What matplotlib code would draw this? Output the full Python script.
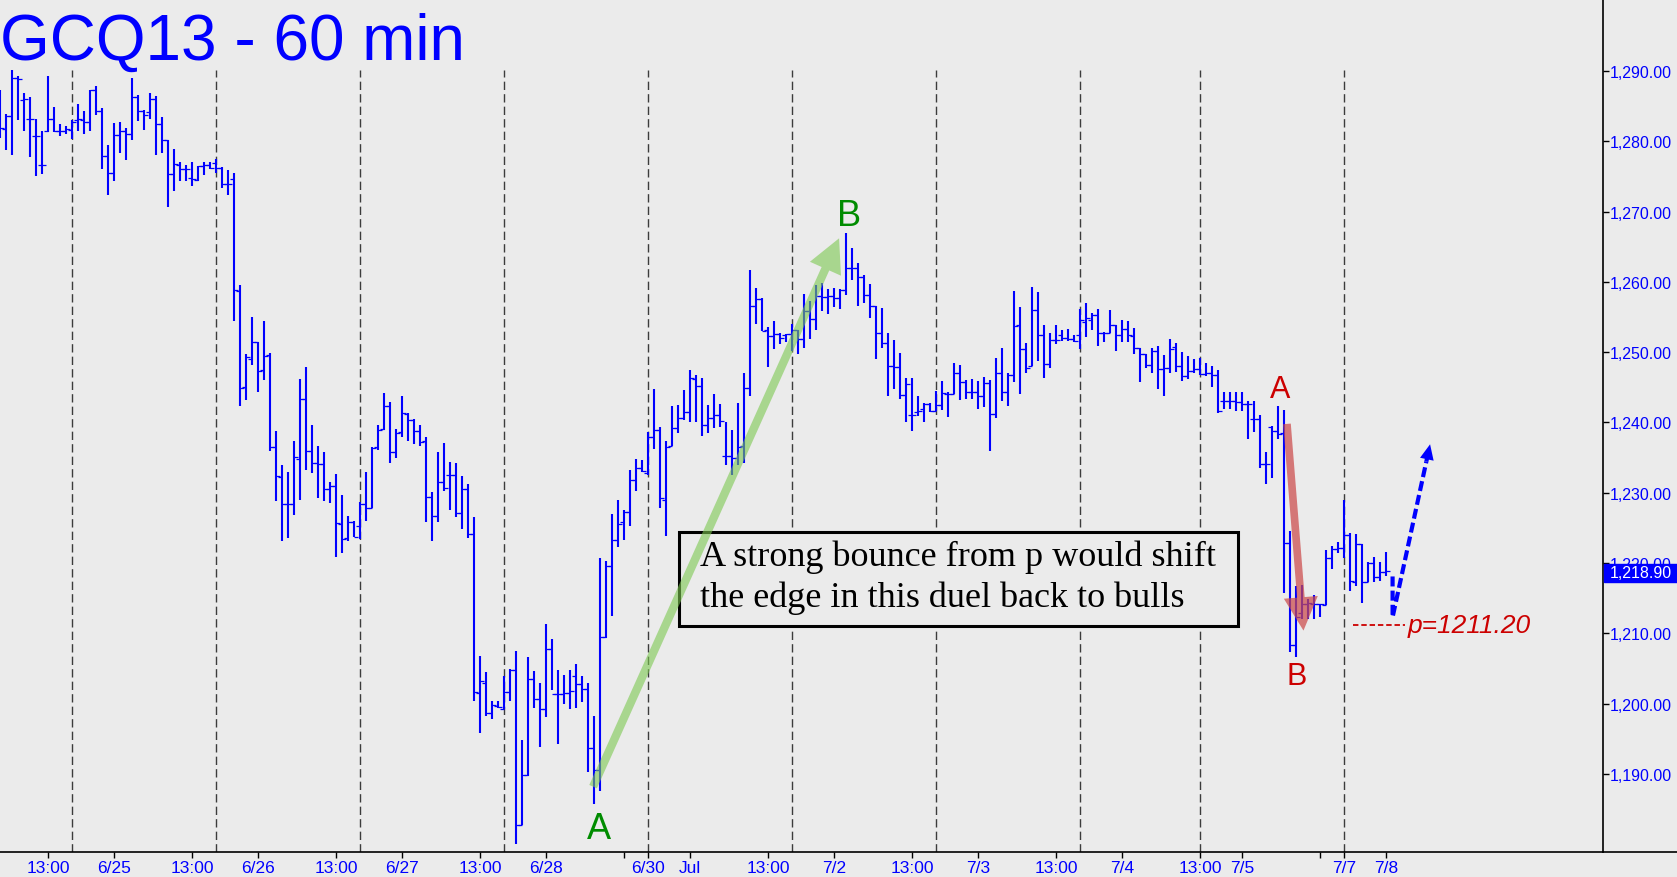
import matplotlib
matplotlib.use('Agg')
import matplotlib.pyplot as plt
from matplotlib.patches import FancyArrowPatch, Rectangle
from matplotlib.lines import Line2D

W, H = 1677, 878

# hourly OHLC bars, GCQ13
opens = [1284.0, 1281.8, 1283.6, 1289.0, 1285.9, 1283.1, 1280.7, 1276.6, 1281.4, 1283.1,
         1281.5, 1281.5, 1281.6, 1283.0, 1283.0, 1282.7, 1287.3, 1284.3, 1277.9, 1275.5,
         1280.9, 1281.5, 1281.0, 1286.3, 1284.3, 1284.1, 1286.0, 1282.4, 1280.2, 1275.3,
         1276.6, 1276.0, 1274.8, 1274.5, 1276.5, 1276.6, 1276.9, 1276.2, 1273.9, 1274.7,
         1258.7, 1245.0, 1249.1, 1251.4, 1247.4, 1249.6, 1236.5, 1232.3, 1228.4, 1228.4,
         1234.8, 1243.3, 1235.9, 1234.2, 1234.1, 1230.5, 1231.0, 1225.6, 1223.6, 1225.9,
         1225.3, 1228.4, 1227.8, 1236.5, 1239.1, 1242.4, 1235.8, 1238.6, 1241.2, 1240.4,
         1238.8, 1237.3, 1229.4, 1226.7, 1231.6, 1232.6, 1232.6, 1227.1, 1230.5, 1224.2,
         1201.5, 1202.9, 1198.7, 1199.7, 1199.3, 1201.6, 1204.8, 1182.8, 1189.9, 1203.5,
         1200.7, 1199.3, 1207.8, 1201.4, 1201.4, 1201.5, 1203.9, 1202.8, 1202.1, 1193.7,
         1190.5, 1209.5, 1219.6, 1223.3, 1225.8, 1227.2, 1231.8, 1233.5, 1232.8, 1238.0,
         1239.0, 1229.0, 1236.6, 1239.2, 1240.6, 1241.5, 1246.2, 1245.2, 1239.6, 1240.7,
         1241.0, 1235.2, 1235.2, 1234.9, 1236.7, 1244.9, 1256.5, 1257.5, 1253.1, 1252.3,
         1252.6, 1252.4, 1252.6, 1253.2, 1251.9, 1255.9, 1254.7, 1258.0, 1257.8, 1258.0,
         1257.7, 1258.8, 1262.0, 1262.0, 1260.7, 1258.2, 1256.5, 1252.8, 1251.3, 1248.0,
         1247.9, 1243.9, 1241.0, 1241.5, 1241.9, 1242.6, 1241.7, 1242.5, 1244.1, 1244.1,
         1247.1, 1245.7, 1244.4, 1244.4, 1243.7, 1245.6, 1241.2, 1247.1, 1244.4, 1246.8,
         1253.8, 1250.4, 1248.0, 1256.0, 1252.4, 1248.3, 1251.7, 1252.4, 1252.0, 1251.9,
         1252.5, 1254.3, 1254.6, 1255.3, 1252.8, 1252.8, 1253.9, 1252.5, 1253.3, 1252.3,
         1250.6, 1249.8, 1248.2, 1250.1, 1247.6, 1247.7, 1250.8, 1248.0, 1246.6, 1247.3,
         1247.6, 1246.9, 1247.0, 1246.7, 1243.1, 1243.1, 1243.0, 1242.9, 1242.6, 1240.5,
         1240.5, 1234.1, 1239.3, 1238.8, 1238.5, 1222.9, 1208.4, 1212.9, 1214.2, 1214.2,
         1214.2, 1214.0, 1220.7, 1222.0, 1222.2, 1224.0, 1217.3, 1222.7, 1217.3, 1220.0,
         1218.0, 1218.7]
highs = [1287.3, 1283.9, 1290.1, 1289.3, 1286.9, 1286.3, 1283.2, 1281.5, 1289.3, 1284.9,
         1282.5, 1282.2, 1283.0, 1285.3, 1284.3, 1287.3, 1287.9, 1284.8, 1279.5, 1282.6,
         1282.8, 1281.9, 1289.0, 1286.6, 1284.5, 1286.9, 1286.5, 1283.4, 1280.2, 1278.9,
         1277.1, 1276.6, 1277.1, 1276.5, 1277.1, 1277.1, 1277.5, 1276.4, 1275.9, 1275.5,
         1259.6, 1249.7, 1255.0, 1251.4, 1254.5, 1249.9, 1238.8, 1233.9, 1233.0, 1237.3,
         1246.2, 1247.9, 1239.6, 1236.7, 1235.8, 1231.5, 1232.7, 1229.7, 1226.7, 1226.0,
         1228.7, 1232.9, 1236.5, 1239.6, 1244.2, 1242.9, 1239.1, 1243.8, 1241.4, 1240.5,
         1239.7, 1237.9, 1230.1, 1235.8, 1237.1, 1234.4, 1234.2, 1232.4, 1231.3, 1226.6,
         1206.8, 1204.5, 1200.4, 1200.4, 1203.9, 1204.9, 1207.5, 1194.8, 1206.7, 1204.7,
         1203.0, 1211.3, 1209.2, 1204.8, 1204.1, 1204.8, 1205.7, 1203.9, 1202.9, 1198.3,
         1220.7, 1220.3, 1227.0, 1229.0, 1227.5, 1233.3, 1234.8, 1234.7, 1238.6, 1244.8,
         1239.4, 1237.3, 1242.4, 1242.5, 1244.6, 1247.4, 1246.7, 1246.3, 1242.5, 1244.1,
         1242.6, 1240.1, 1238.9, 1242.8, 1247.0, 1261.7, 1259.1, 1257.7, 1253.6, 1254.4,
         1252.8, 1252.6, 1254.0, 1253.2, 1258.3, 1257.3, 1259.5, 1259.9, 1259.0, 1259.2,
         1259.0, 1266.9, 1264.8, 1262.7, 1261.0, 1259.7, 1256.5, 1256.3, 1252.8, 1251.8,
         1249.9, 1246.4, 1246.4, 1243.7, 1242.8, 1242.8, 1244.5, 1245.9, 1244.4, 1248.5,
         1248.2, 1246.1, 1246.2, 1245.9, 1246.5, 1246.1, 1249.2, 1250.6, 1247.1, 1258.7,
         1256.4, 1251.3, 1259.3, 1258.6, 1253.9, 1252.8, 1253.9, 1253.2, 1253.3, 1252.4,
         1256.1, 1257.0, 1255.6, 1256.1, 1252.9, 1256.0, 1253.9, 1254.6, 1254.5, 1253.4,
         1250.6, 1249.8, 1250.6, 1250.9, 1249.6, 1251.9, 1251.3, 1250.0, 1249.5, 1249.0,
         1249.2, 1248.5, 1248.0, 1247.4, 1244.4, 1244.4, 1244.4, 1244.4, 1243.1, 1243.0,
         1241.1, 1235.8, 1239.5, 1242.4, 1241.8, 1224.6, 1216.7, 1216.9, 1214.9, 1215.5,
         1214.2, 1221.8, 1222.4, 1223.0, 1229.0, 1224.3, 1224.1, 1222.7, 1220.2, 1220.8,
         1220.2, 1221.6]
lows = [1280.5, 1278.8, 1278.1, 1283.0, 1281.4, 1277.8, 1275.0, 1275.3, 1281.3, 1281.3,
        1280.8, 1281.0, 1280.3, 1281.4, 1281.0, 1281.5, 1283.8, 1276.0, 1272.4, 1274.4,
        1278.3, 1277.4, 1280.2, 1282.9, 1281.6, 1283.2, 1278.1, 1278.3, 1270.6, 1272.9,
        1274.4, 1274.4, 1273.6, 1274.4, 1275.2, 1276.1, 1275.5, 1273.4, 1272.4, 1254.5,
        1242.4, 1243.2, 1248.2, 1244.4, 1246.1, 1236.0, 1228.9, 1223.1, 1223.5, 1226.9,
        1229.0, 1233.3, 1232.8, 1229.3, 1228.8, 1228.6, 1220.8, 1221.5, 1223.2, 1223.7,
        1223.4, 1226.0, 1227.8, 1236.1, 1238.9, 1234.3, 1235.0, 1238.0, 1237.3, 1236.9,
        1236.6, 1225.9, 1223.2, 1225.9, 1230.2, 1227.5, 1226.6, 1224.9, 1223.5, 1200.4,
        1195.9, 1198.3, 1197.8, 1199.4, 1199.3, 1200.4, 1180.0, 1182.7, 1189.7, 1199.4,
        1193.9, 1198.1, 1202.0, 1194.2, 1199.9, 1199.2, 1199.4, 1200.3, 1190.3, 1185.8,
        1187.6, 1209.3, 1212.5, 1222.3, 1223.3, 1225.3, 1230.2, 1233.0, 1232.6, 1236.3,
        1227.9, 1223.9, 1236.6, 1238.5, 1240.4, 1240.1, 1240.0, 1238.1, 1238.5, 1239.2,
        1239.3, 1234.0, 1232.6, 1234.0, 1234.3, 1243.8, 1254.0, 1253.0, 1247.9, 1250.4,
        1251.2, 1251.5, 1250.1, 1249.7, 1250.6, 1251.9, 1253.2, 1255.9, 1255.4, 1256.4,
        1256.1, 1258.1, 1260.2, 1256.6, 1257.0, 1254.8, 1249.1, 1250.6, 1243.7, 1244.8,
        1243.3, 1240.0, 1238.8, 1240.9, 1240.1, 1241.5, 1241.7, 1241.8, 1240.8, 1244.0,
        1243.2, 1243.3, 1243.3, 1241.9, 1242.2, 1235.9, 1240.6, 1243.0, 1242.3, 1245.8,
        1244.1, 1247.1, 1248.0, 1248.7, 1246.4, 1247.8, 1251.1, 1251.6, 1251.6, 1251.4,
        1250.5, 1252.2, 1253.2, 1250.9, 1251.5, 1252.8, 1250.1, 1251.4, 1251.4, 1249.8,
        1245.7, 1247.8, 1247.1, 1244.7, 1243.7, 1247.1, 1247.2, 1245.9, 1246.2, 1247.0,
        1246.7, 1246.6, 1245.1, 1241.3, 1241.9, 1241.9, 1241.7, 1241.7, 1237.7, 1238.6,
        1233.5, 1231.2, 1232.1, 1237.7, 1215.8, 1207.4, 1206.7, 1212.0, 1212.0, 1212.0,
        1212.4, 1214.0, 1219.1, 1221.5, 1220.7, 1216.1, 1216.8, 1214.3, 1217.3, 1217.3,
        1217.5, 1218.2]
closes = [1281.9, 1283.6, 1289.0, 1288.8, 1286.0, 1283.1, 1280.7, 1276.6, 1283.1, 1281.5,
          1281.5, 1281.7, 1282.8, 1283.2, 1282.7, 1287.3, 1284.3, 1277.9, 1275.5, 1280.9,
          1281.5, 1281.0, 1286.3, 1284.3, 1283.8, 1286.0, 1282.4, 1280.2, 1275.3, 1276.7,
          1276.1, 1276.0, 1274.6, 1276.5, 1276.6, 1276.2, 1276.2, 1273.9, 1273.9, 1258.8,
          1244.9, 1249.3, 1251.4, 1247.3, 1249.4, 1236.5, 1232.4, 1228.4, 1228.4, 1235.1,
          1243.3, 1235.9, 1234.2, 1234.1, 1230.6, 1231.0, 1225.7, 1223.4, 1225.9, 1223.7,
          1228.4, 1227.8, 1236.4, 1238.9, 1242.4, 1235.8, 1238.5, 1241.3, 1240.4, 1238.8,
          1237.2, 1229.4, 1226.7, 1231.6, 1230.7, 1232.6, 1227.1, 1230.6, 1224.1, 1201.6,
          1203.2, 1198.7, 1199.8, 1199.5, 1201.6, 1204.8, 1182.8, 1189.9, 1203.5, 1200.7,
          1199.3, 1207.8, 1201.4, 1201.4, 1201.5, 1201.8, 1202.8, 1202.1, 1193.7, 1190.6,
          1209.5, 1219.6, 1223.3, 1225.6, 1227.2, 1231.8, 1233.5, 1233.1, 1238.0, 1239.0,
          1229.3, 1236.5, 1239.2, 1240.7, 1241.5, 1246.4, 1245.2, 1239.6, 1240.7, 1241.0,
          1240.2, 1235.2, 1234.9, 1236.5, 1244.9, 1256.5, 1257.5, 1253.0, 1252.3, 1252.6,
          1252.0, 1252.6, 1253.2, 1251.9, 1255.9, 1254.7, 1258.0, 1257.8, 1258.0, 1257.7,
          1258.8, 1262.0, 1262.0, 1260.7, 1258.2, 1256.5, 1252.8, 1251.3, 1248.0, 1247.9,
          1243.9, 1245.5, 1241.0, 1241.6, 1242.6, 1241.6, 1242.5, 1244.2, 1244.1, 1247.1,
          1245.7, 1244.3, 1244.4, 1243.7, 1245.6, 1241.2, 1247.1, 1244.4, 1246.8, 1253.7,
          1250.5, 1247.8, 1256.0, 1252.4, 1248.3, 1251.7, 1251.7, 1252.0, 1251.9, 1251.6,
          1254.6, 1254.8, 1255.3, 1252.8, 1252.8, 1253.9, 1252.5, 1253.3, 1252.5, 1250.6,
          1249.8, 1248.2, 1250.1, 1247.6, 1247.7, 1250.5, 1248.0, 1246.6, 1247.3, 1247.6,
          1246.9, 1247.0, 1246.7, 1241.6, 1243.1, 1243.1, 1242.9, 1242.6, 1242.6, 1240.5,
          1234.1, 1234.1, 1238.8, 1238.4, 1222.9, 1208.4, 1212.3, 1214.2, 1214.3, 1214.2,
          1214.2, 1220.7, 1222.0, 1222.2, 1224.0, 1217.4, 1222.7, 1217.3, 1220.0, 1218.0,
          1218.7, 1218.9]

# time axis (bar index -> label)
tick_bars = [8, 19, 32, 43, 56, 67, 80, 91, 104, 108, 115, 128, 139, 152, 163, 176,
             187, 200, 207, 220, 224, 231]
tick_labels = ['13:00', '6/25', '13:00', '6/26', '13:00', '6/27', '13:00', '6/28', '',
               '6/30', 'Jul', '13:00', '7/2', '13:00', '7/3', '13:00', '7/4', '13:00',
               '7/5', '', '7/7', '7/8']
session_bars = [12, 36, 60, 84, 108, 132, 156, 180, 200, 224]
price_ticks = [1190, 1200, 1210, 1220, 1230, 1240, 1250, 1260, 1270, 1280, 1290]
last_price = 1218.90
pivot = 1211.20

BG = '#ebebeb'
BLUE = '#0000ff'

AXB = 853  # pixel row of the time axis
fig = plt.figure(figsize=(W / 100, H / 100), dpi=100)
fig.patch.set_facecolor(BG)
ax = fig.add_axes([0, (H - AXB) / H, 1603 / W, AXB / H])
ax.set_facecolor(BG)
ymin = 1290 - (AXB - 72) / 7.03
ax.set_xlim(-0.05, 267.12)
ax.set_ylim(ymin, 1300.24)

# session separators
ax.vlines(session_bars, ymin, 1290.15, colors='#3c3c3c', linestyles=(0, (6, 3)),
          lw=1, zorder=1)

# OHLC bars
idx = list(range(len(closes)))
ax.vlines(idx, lows, highs, color=BLUE, lw=1.5, zorder=3)
ax.hlines(opens, [i - 0.7 for i in idx], idx, color=BLUE, lw=0.9, zorder=3)
ax.hlines(closes, idx, [i + 0.7 for i in idx], color=BLUE, lw=0.9, zorder=3)

# axes styling
for s in ['left', 'top']:
    ax.spines[s].set_visible(False)
ax.spines['right'].set_linewidth(1.2)
ax.spines['bottom'].set_linewidth(1.2)
ax.yaxis.tick_right()
ax.set_yticks(price_ticks)
ax.set_yticklabels([f'{p:,.2f}' for p in price_ticks])
ax.tick_params(axis='y', direction='out', length=4.3, width=1, colors='black',
               labelcolor=BLUE, pad=0.5, labelsize=11.5)
for t in ax.get_yticklabels():
    t.set_family('Liberation Sans')
ax.set_xticks(tick_bars)
ax.set_xticklabels(tick_labels)
ax.tick_params(axis='x', direction='out', length=4, width=1, colors='black',
               labelcolor=BLUE, pad=2, labelsize=12.5)
for t in ax.get_xticklabels():
    t.set_family(['Liberation Sans Narrow', 'Liberation Sans'])
fig.add_artist(Line2D([1603 / W, 1], [(H - AXB) / H] * 2, color='black', lw=1.2))

# A-B up move (green)
ax.add_patch(FancyArrowPatch((98.8, 1188.2), (139.8, 1266.2),
                             arrowstyle='simple,head_length=2.4,head_width=2.45,tail_width=0.6',
                             mutation_scale=10, color='#7cc850', alpha=0.6, lw=0,
                             shrinkA=0, shrinkB=0, zorder=5))
ax.text(99.7, 1182.2, 'A', color='#008c00', fontsize=26, ha='center', va='center',
        family='Liberation Sans', zorder=6)
ax.text(141.4, 1269.4, 'B', color='#008c00', fontsize=26, ha='center', va='center',
        family='Liberation Sans', zorder=6)

# A-B down move (red)
ax.add_patch(FancyArrowPatch((214.45, 1239.8), (217.2, 1210.4),
                             arrowstyle='simple,head_length=2.4,head_width=2.45,tail_width=0.55',
                             mutation_scale=10, color='#cc4a4a', alpha=0.72, lw=0,
                             shrinkA=0, shrinkB=0, zorder=5))
ax.text(213.3, 1244.8, 'A', color='#cc0000', fontsize=22, ha='center', va='center',
        family='Liberation Sans', zorder=6)
ax.text(216.1, 1204.0, 'B', color='#cc0000', fontsize=22, ha='center', va='center',
        family='Liberation Sans', zorder=6)

# pivot line and label
ax.plot([225.5, 234.2], [pivot, pivot], color='#cc0000', lw=1.3, ls=(0, (3, 1.6)), zorder=4)
ax.text(234.6, pivot, 'p=1211.20', color='#cc0000', fontsize=19, style='italic',
        ha='left', va='center', family='Liberation Sans', zorder=6)

# projected bounce (blue dashed)
bx, by = 232.05, 1212.3
tx, ty = 238.3, 1236.9
f = 0.1
hx, hy = tx - f * (tx - bx), ty - f * (ty - by)
ax.plot([bx, bx, hx], [1218.1, by, hy], color=BLUE, lw=3, ls=(0, (2.4, 1.0)),
        dash_capstyle='butt', zorder=5)
ax.add_patch(FancyArrowPatch((hx, hy), (tx, ty),
                             arrowstyle='simple,head_length=1.1,head_width=1.0,tail_width=0.3',
                             mutation_scale=10, color=BLUE, lw=0, shrinkA=0, shrinkB=0,
                             zorder=5))

# comment box
ax.add_patch(Rectangle((113.2, 1211.05), 206.3 - 113.2, 1224.4 - 1211.05,
                       facecolor=BG, edgecolor='black', lw=2.2, zorder=4))
ax.text(116.7, 1218.0, 'A strong bounce from p would shift\nthe edge in this duel back to bulls',
        fontsize=26, family='Liberation Serif', color='black', ha='left', va='center',
        linespacing=1.3, zorder=4.5)

# title
fig.text(0.5 / W, 1 - 60 / H, 'GCQ13 - 60 min', fontsize=46, color=BLUE,
         family='Liberation Sans', ha='left', va='baseline')

# last price tag
fig.add_artist(Rectangle((1604 / W, 1 - 583 / H), 73 / W, 18 / H, color=BLUE,
                         transform=fig.transFigure, zorder=5))
fig.text(1610 / W, 1 - 574 / H, f'{last_price:,.2f}', color='white', fontsize=11.5,
         family='Liberation Sans', ha='left', va='center', zorder=6)

fig.savefig('out.png', dpi=100, facecolor=BG)
